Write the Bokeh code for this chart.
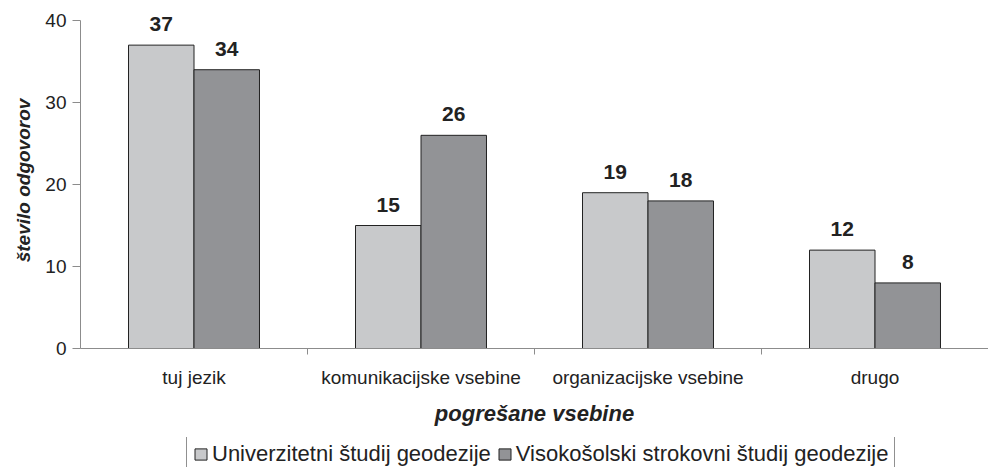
from bokeh.plotting import figure
from bokeh.layouts import column
from bokeh.models import (Range1d, FixedTicker, ColumnDataSource, LabelSet,
                          Legend, LegendItem)
from bokeh.core.properties import value
from bokeh.transform import dodge
from bokeh.embed import file_html
from bokeh.resources import INLINE

categories = ["tuj jezik", "komunikacijske vsebine", "organizacijske vsebine", "drugo"]
univ = [37, 15, 19, 12]
visoko = [34, 26, 18, 8]
series_names = ["Univerzitetni študij geodezije", "Visokošolski strokovni študij geodezije"]
y_ticks = [0, 10, 20, 30, 40]

FONT = "Liberation Sans"
LIGHT = "#c8c9cb"
DARK = "#929396"
AXIS = "#8c8c8c"
TXT = "#222222"

xc = [i + 0.5 for i in range(len(categories))]
bounds = [i for i in range(1, len(categories))]
source = ColumnDataSource(dict(
    x=xc, univ=univ, visoko=visoko,
    univ_lbl=[str(v) for v in univ], visoko_lbl=[str(v) for v in visoko],
))

p = figure(frame_width=908, frame_height=336, x_range=Range1d(0, len(categories)),
           y_range=Range1d(0, 40.98), output_backend="svg", toolbar_location=None,
           min_border_left=80, min_border_top=12, min_border_right=0,
           min_border_bottom=89)
p.outline_line_color = None
p.grid.visible = False

bw = 0.2885
off = bw / 2
r1 = p.vbar(x=dodge("x", -off, range=p.x_range), top="univ", width=bw, source=source,
            fill_color=LIGHT, line_color=TXT, line_width=1)
r2 = p.vbar(x=dodge("x", off, range=p.x_range), top="visoko", width=bw, source=source,
            fill_color=DARK, line_color=TXT, line_width=1)

for field, lbl, d in (("univ", "univ_lbl", -off), ("visoko", "visoko_lbl", off)):
    ls = LabelSet(x=dodge("x", d, range=p.x_range), y=field, text=lbl, source=source,
                  y_offset=14, text_align="center", text_baseline="alphabetic",
                  text_font=value(FONT), text_font_style="bold",
                  text_font_size=value("21px"), text_color=TXT)
    p.add_layout(ls)

# x axis
xa = p.xaxis[0]
xa.ticker = FixedTicker(ticks=xc, minor_ticks=bounds)
xa.major_label_overrides = {x: c for x, c in zip(xc, categories)}
xa.major_tick_out = 0
xa.major_tick_in = 0
xa.minor_tick_out = 6
xa.minor_tick_in = 0
xa.minor_tick_line_color = AXIS
xa.axis_line_color = AXIS
xa.major_label_standoff = 12
xa.major_label_text_font = FONT
xa.major_label_text_font_size = "19px"
xa.major_label_text_color = TXT
xa.axis_label = "pogrešane vsebine"
xa.axis_label_text_font = FONT
xa.axis_label_text_font_style = "bold italic"
xa.axis_label_text_font_size = "22px"
xa.axis_label_text_color = TXT
xa.axis_label_standoff = 10

# y axis
ya = p.yaxis[0]
ya.ticker = FixedTicker(ticks=y_ticks)
ya.bounds = (0, 40)
ya.minor_tick_line_color = None
ya.major_tick_out = 8
ya.major_tick_in = 0
ya.major_tick_line_color = AXIS
ya.axis_line_color = AXIS
ya.major_label_standoff = 6
ya.major_label_text_font = FONT
ya.major_label_text_font_size = "19px"
ya.major_label_text_color = TXT
ya.axis_label = "število odgovorov"
ya.axis_label_text_font = FONT
ya.axis_label_text_font_style = "bold italic"
ya.axis_label_text_font_size = "19px"
ya.axis_label_text_color = TXT
ya.axis_label_standoff = 8

# legend strip below the chart (same series, renderers hidden, only the key shows)
p2 = figure(width=988, height=40, x_range=p.x_range, y_range=p.y_range,
            output_backend="svg", toolbar_location=None,
            x_axis_type=None, y_axis_type=None,
            min_border_left=0, min_border_right=0, min_border_top=0,
            min_border_bottom=0)
p2.outline_line_color = None
p2.grid.visible = False
k1 = p2.vbar(x=dodge("x", -off, range=p.x_range), top="univ", width=bw, source=source,
             fill_color=LIGHT, line_color=TXT, line_width=1, visible=False)
k2 = p2.vbar(x=dodge("x", off, range=p.x_range), top="visoko", width=bw, source=source,
             fill_color=DARK, line_color=TXT, line_width=1, visible=False)

legend = Legend(items=[LegendItem(label=series_names[0], renderers=[k1]),
                       LegendItem(label=series_names[1], renderers=[k2])],
                orientation="horizontal", location=(106, 3),
                label_text_font=FONT, label_text_font_size="22px",
                label_text_color=TXT,
                glyph_width=15, glyph_height=14, label_standoff=4,
                spacing=6, padding=6, margin=0,
                inactive_fill_alpha=0,
                border_line_color=TXT, border_line_width=1,
                background_fill_alpha=1)
p2.add_layout(legend, "center")

layout = column(p, p2, spacing=0)
open("out.html", "w").write(file_html(layout, INLINE))
